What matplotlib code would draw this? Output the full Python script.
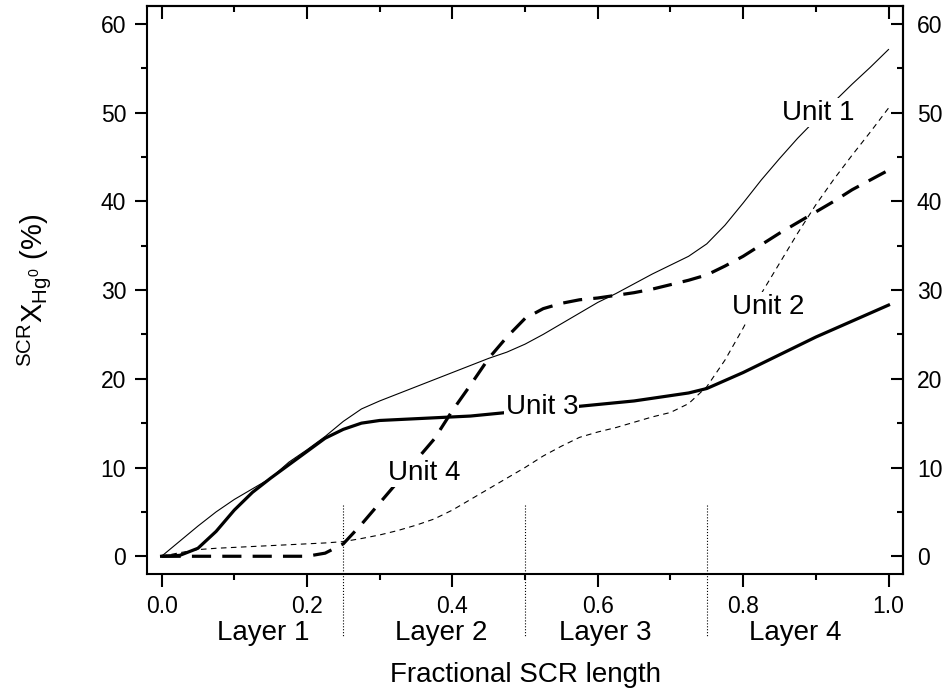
import matplotlib
matplotlib.use('Agg')
import matplotlib.pyplot as plt
import numpy as np

# --- data
frac = np.arange(41) * 0.025

unit1 = [0.0, 1.7, 3.4, 5.0, 6.4, 7.6, 8.8, 10.6, 12.0, 13.5,
         15.2, 16.6, 17.5, 18.3, 19.1, 19.9, 20.7, 21.5, 22.3, 23.0,
         23.9, 25.0, 26.2, 27.4, 28.6, 29.6, 30.7, 31.8, 32.8, 33.8,
         35.2, 37.3, 39.8, 42.4, 44.8, 47.1, 49.2, 51.2, 53.2, 55.1, 57.1]

unit2 = [0.0, 0.4, 0.75, 0.9, 1.0, 1.1, 1.2, 1.3, 1.4, 1.5,
         1.65, 2.0, 2.4, 2.9, 3.5, 4.2, 5.2, 6.4, 7.6, 8.8,
         10.0, 11.3, 12.4, 13.4, 14.0, 14.5, 15.1, 15.7, 16.2, 17.2,
         19.1, 22.1, 25.7, 29.6, 33.0, 36.4, 39.6, 42.5, 45.2, 47.8, 50.5]

unit3 = [0.0, 0.1, 0.9, 2.8, 5.2, 7.2, 8.8, 10.3, 11.8, 13.3,
         14.3, 15.0, 15.3, 15.4, 15.5, 15.6, 15.7, 15.8, 16.0, 16.2,
         16.4, 16.6, 16.7, 16.9, 17.1, 17.3, 17.5, 17.8, 18.1, 18.4,
         18.9, 19.8, 20.7, 21.7, 22.7, 23.7, 24.7, 25.6, 26.5, 27.4, 28.3]

unit4 = [0.0, 0.0, 0.0, 0.0, 0.0, 0.0, 0.0, 0.0, 0.0, 0.35,
         1.4, 3.6, 6.0, 8.4, 10.8, 13.2, 16.4, 19.3, 22.3, 24.7,
         26.8, 27.9, 28.5, 28.9, 29.1, 29.4, 29.7, 30.1, 30.6, 31.1,
         31.7, 32.7, 33.8, 35.1, 36.4, 37.6, 38.8, 40.0, 41.3, 42.4, 43.5]

unit_names = ["Unit 1", "Unit 2", "Unit 3", "Unit 4"]
unit_label_x = [0.903, 0.834, 0.523, 0.361]
unit_label_y = [50.0, 28.1, 16.8, 9.4]

layer_bounds = [0.25, 0.5, 0.75]
layer_names = ["Layer 1", "Layer 2", "Layer 3", "Layer 4"]
layer_centers = [0.14, 0.385, 0.61, 0.872]

# --- fonts
plt.rcParams['font.family'] = ['Liberation Sans', 'DejaVu Sans']
plt.rcParams['mathtext.fontset'] = 'custom'
plt.rcParams['mathtext.rm'] = 'Liberation Sans'
plt.rcParams['axes.linewidth'] = 1.5

fig = plt.figure(figsize=(9.45, 6.91), dpi=100)
ax = fig.add_axes([0.1556, 0.1693, 0.8, 0.822])

ax.plot(frac, unit1, color='black', lw=0.8, zorder=3)
ax.plot(frac, unit2, color='black', lw=0.8, dashes=(5, 4), zorder=3)
ax.plot(frac, unit3, color='black', lw=2.3, zorder=3)
ax.plot(frac, unit4, color='black', lw=2.3, dashes=(6, 3.5), zorder=3)

# --- unit labels with white boxes that cut the lines
for name, lx, ly in zip(unit_names, unit_label_x, unit_label_y):
    ax.text(lx, ly, name, fontsize=20, ha='center', va='center', zorder=5,
            bbox=dict(facecolor='white', edgecolor='none', pad=1.0))

# --- layer separators (reach below the axis)
for b in layer_bounds:
    ax.plot([b, b], [5.8, -9.0], color='black', lw=0.8, ls=':', clip_on=False, zorder=4)
for name, c in zip(layer_names, layer_centers):
    ax.text(c, -8.7, name, fontsize=20, ha='center', va='center', clip_on=False)

ax.set_xlim(-0.02, 1.02)
ax.set_ylim(-2, 62)
ax.set_xticks(np.arange(0, 1.01, 0.2))
ax.set_xticks(np.arange(0, 1.01, 0.1), minor=True)
ax.set_yticks(np.arange(0, 61, 10))
ax.set_yticks(np.arange(0, 61, 5), minor=True)
ax.set_xticklabels(["%.1f" % v for v in np.arange(0, 1.01, 0.2)])
ax.tick_params(which='both', direction='out', width=1.5, labelsize=16.5)
ax.tick_params(which='major', length=9)
ax.tick_params(which='minor', length=4.5)
ax.tick_params(axis='x', pad=6)
ax.tick_params(axis='y', pad=6)

# top and right: ticks pointing in, numbers only on the right
top = ax.secondary_xaxis('top')
top.set_xticks(np.arange(0, 1.01, 0.2))
top.set_xticks(np.arange(0, 1.01, 0.1), minor=True)
top.tick_params(which='both', direction='in', width=1.5, labeltop=False)
top.tick_params(which='major', length=9)
top.tick_params(which='minor', length=4.5)

right = ax.secondary_yaxis('right')
right.set_yticks(np.arange(0, 61, 10))
right.set_yticks(np.arange(0, 61, 5), minor=True)
right.tick_params(which='both', direction='in', width=1.5, labelsize=16.5, pad=10)
right.tick_params(which='major', length=9)
right.tick_params(which='minor', length=4.5)

ax.set_xlabel("Fractional SCR length", fontsize=20, labelpad=32)
ax.set_ylabel(r'$^{\mathrm{SCR}}\mathrm{X}_{\mathrm{Hg}^{0}}$ (%)', fontsize=21)
ax.yaxis.set_label_coords(-0.124, 0.5)

fig.savefig("out.png", dpi=100)
